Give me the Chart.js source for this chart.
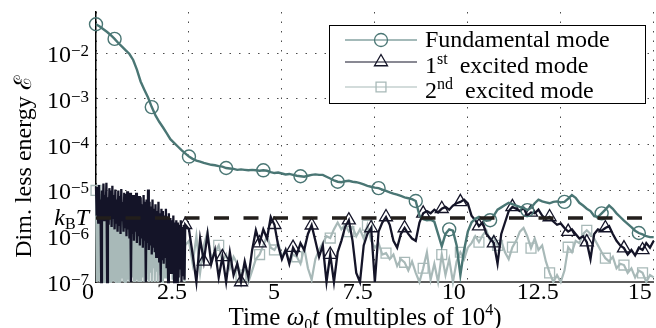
<!DOCTYPE html>
<html>
<head>
<meta charset="utf-8">
<script src="https://cdn.jsdelivr.net/npm/chart.js@4/dist/chart.umd.min.js"></script>
<style>
  html, body { margin: 0; padding: 0; background: #fff; overflow: hidden; }
  canvas { display: block; }
</style>
</head>
<body>
<canvas id="grafico" width="662" height="328"></canvas>
<script>
// valores en log10 (se pasan a 10^v al construir los datos)
// modo fundamental, t = 0 .. 15 cada 0.1
const fundLog = [
  -1.37,-1.42,-1.48,-1.54,-1.61,-1.69,-1.78,-1.86,-1.94,-2.02,
  -2.15,-2.36,-2.62,-2.80,-2.97,-3.18,-3.36,-3.50,-3.62,-3.75,
  -3.88,-3.96,-4.04,-4.12,-4.19,-4.26,-4.31,-4.35,-4.37,-4.40,
  -4.42,-4.44,-4.45,-4.47,-4.48,-4.51,-4.52,-4.53,-4.55,-4.54,
  -4.55,-4.56,-4.55,-4.56,-4.57,-4.56,-4.57,-4.60,-4.62,-4.61,
  -4.63,-4.65,-4.64,-4.66,-4.68,-4.69,-4.70,-4.68,-4.66,-4.65,
  -4.66,-4.66,-4.70,-4.74,-4.78,-4.81,-4.82,-4.80,-4.79,-4.81,
  -4.82,-4.84,-4.87,-4.90,-4.92,-4.94,-4.95,-4.98,-5.01,-5.04,
  -5.07,-5.09,-5.12,-5.15,-5.17,-5.19,-5.23,-5.55,-5.63,-5.65,
  -5.64,-5.68,-5.95,-6.22,-5.95,-5.85,-5.88,-6.20,-6.85,-6.30,
  -5.90,-5.70,-5.62,-5.58,-5.63,-5.66,-5.65,-5.55,-5.42,-5.37,
  -5.32,-5.27,-5.30,-5.33,-5.36,-5.38,-5.43,-5.38,-5.28,-5.20,
  -5.24,-5.26,-5.28,-5.25,-5.24,-5.26,-5.25,-5.18,-5.10,-5.16,
  -5.27,-5.33,-5.40,-5.45,-5.56,-5.58,-5.50,-5.42,-5.33,-5.40,
  -5.50,-5.58,-5.66,-5.73,-5.80,-5.88,-5.93,-5.96,-6.00,-6.02,
  -6.02
];

// 1er modo excitado: tramo denso t = 0 .. 2.4 cada 0.02
const exc1DenseLog = [
  -4.92,-5.55,-5.05,-5.70,-4.88,-5.45,-5.20,-7.00,-5.00,-5.60,
  -4.85,-5.65,-5.10,-5.50,-4.83,-7.00,-5.15,-5.75,-4.95,-5.55,
  -5.00,-5.80,-4.90,-5.60,-5.10,-5.85,-4.98,-5.70,-5.20,-5.90,
  -5.00,-5.75,-5.12,-5.95,-4.97,-5.65,-5.25,-5.90,-5.05,-5.80,
  -5.08,-6.00,-5.02,-5.85,-5.20,-6.05,-5.05,-7.00,-5.15,-5.95,
  -5.10,-6.10,-5.25,-5.90,-5.05,-6.15,-5.20,-6.00,-5.12,-6.20,
  -5.15,-6.05,-5.30,-6.25,-5.10,-6.10,-5.25,-7.00,-5.20,-6.15,
  -4.98,-6.30,-5.25,-6.20,-5.35,-6.40,-5.20,-6.25,-5.40,-6.35,
  -5.30,-6.45,-5.45,-6.30,-5.25,-6.55,-5.50,-7.00,-5.40,-6.50,
  -5.45,-6.60,-5.55,-6.45,-5.40,-6.70,-5.60,-7.00,-5.50,-6.65,
  -5.60,-6.80,-5.65,-6.60,-5.55,-7.00,-5.70,-6.75,-5.65,-7.00,
  -5.70,-6.90,-5.75,-6.70,-5.65,-7.00,-5.80,-6.85,-5.75,-6.95,
  -5.75
];
// 1er modo excitado: t = 2.5 .. 15 cada 0.1
const exc1TailLog = [
  -5.85,-6.40,-7.00,-6.05,-6.55,-5.95,-6.60,-6.30,-6.90,-6.45,
  -7.00,-6.35,-6.85,-6.60,-7.00,-6.55,-6.90,-6.30,-5.87,-6.15,
  -5.85,-6.05,-5.58,-5.75,-6.20,-6.50,-6.30,-6.60,-6.25,-6.40,
  -6.15,-6.30,-5.95,-5.76,-6.10,-6.45,-6.20,-7.00,-6.40,-7.00,
  -6.35,-6.10,-5.80,-5.65,-6.10,-6.80,-7.00,-6.20,-5.95,-5.82,
  -7.00,-5.90,-5.70,-5.58,-5.75,-6.10,-6.25,-5.95,-5.82,-5.95,
  -6.05,-6.10,-5.70,-5.50,-5.45,-5.50,-5.42,-5.48,-5.40,-5.36,
  -5.42,-5.33,-5.28,-5.25,-5.20,-5.28,-5.55,-5.65,-5.78,-5.70,
  -5.95,-6.05,-6.15,-6.60,-5.95,-5.70,-5.45,-5.36,-5.40,-5.45,
  -5.38,-5.55,-5.48,-5.50,-5.42,-5.55,-5.62,-5.58,-5.68,-5.75,
  -5.72,-5.82,-5.90,-5.85,-5.95,-6.05,-6.00,-6.13,-6.50,-5.95,
  -5.85,-5.88,-5.82,-5.78,-5.95,-6.10,-6.20,-6.26,-6.40,-6.30,
  -6.42,-6.25,-6.30,-6.15,-6.25,-6.10
];

// 2do modo excitado: tramo denso t = 0 .. 2.4 cada 0.02
const exc2DenseLog = [
  -5.00,-7.00,-5.05,-6.95,-5.10,-7.00,-5.08,-7.00,-5.15,-6.90,
  -5.12,-7.00,-5.20,-7.00,-5.18,-6.95,-5.25,-7.00,-5.22,-7.00,
  -5.30,-7.00,-5.28,-6.95,-5.35,-7.00,-5.33,-7.00,-5.40,-6.95,
  -5.38,-7.00,-5.45,-7.00,-5.42,-6.90,-5.50,-7.00,-5.48,-7.00,
  -5.55,-7.00,-5.52,-6.95,-5.60,-7.00,-5.58,-7.00,-5.65,-6.90,
  -5.62,-7.00,-5.70,-7.00,-5.68,-6.95,-5.75,-7.00,-5.72,-7.00,
  -5.78,-7.00,-5.75,-6.90,-5.82,-7.00,-5.80,-7.00,-5.86,-6.95,
  -6.05,-7.00,-5.90,-6.80,-5.88,-7.00,-5.92,-6.70,-5.90,-7.00,
  -5.95,-6.75,-5.92,-7.00,-5.98,-6.60,-5.95,-6.85,-6.02,-7.00,
  -6.00,-6.65,-6.05,-6.90,-6.02,-6.55,-6.08,-7.00,-6.05,-6.70,
  -6.10,-6.60,-6.05,-6.95,-6.12,-6.50,-6.08,-6.80,-6.15,-6.60,
  -6.10,-7.00,-6.15,-6.55,-6.12,-6.85,-6.18,-6.60,-6.15,-7.00,
  -6.20
];
// 2do modo excitado: t = 2.5 .. 15 cada 0.1
const exc2TailLog = [
  -6.10,-6.60,-6.00,-6.80,-6.20,-5.90,-6.50,-6.35,-6.20,-6.55,
  -6.40,-6.70,-6.45,-6.60,-6.85,-6.70,-7.00,-6.75,-6.50,-6.40,
  -6.20,-6.00,-6.25,-6.30,-6.15,-6.45,-6.30,-6.55,-6.40,-6.45,
  -6.60,-6.25,-6.70,-6.95,-6.50,-6.30,-6.15,-6.00,-6.04,-5.85,
  -5.70,-5.85,-5.75,-5.90,-5.80,-6.00,-5.85,-6.05,-5.76,-6.10,
  -6.25,-6.15,-6.40,-6.37,-6.50,-6.40,-6.65,-6.50,-6.57,-6.75,
  -6.55,-6.80,-7.00,-6.70,-6.35,-6.95,-6.60,-7.00,-6.40,-6.85,
  -6.50,-7.00,-6.55,-6.35,-6.50,-6.25,-6.15,-6.00,-6.13,-5.98,
  -5.87,-6.10,-6.00,-6.20,-6.10,-6.35,-6.50,-6.24,-6.10,-5.90,
  -5.82,-6.00,-6.26,-6.05,-6.30,-6.20,-6.55,-6.80,-7.00,-6.85,
  -7.00,-6.75,-6.24,-6.35,-6.10,-6.15,-5.95,-5.87,-5.95,-6.05,
  -6.20,-6.35,-6.48,-6.55,-6.45,-6.70,-6.60,-6.63,-6.80,-6.70,
  -6.90,-6.75,-6.80,-7.00,-6.85,-6.90
];

// posiciones (t) de los marcadores
const fundMarks = [0, 0.5, 1.5, 2.5, 3.5, 4.5, 5.5, 6.5, 7.6, 8.6, 9.5, 10.6, 11.6, 12.6, 13.6, 14.6];
const exc1Marks = [2.4, 2.9, 3.4, 3.9, 4.4, 4.8, 5.3, 5.8, 6.3, 6.8, 7.4, 7.8, 8.3, 8.8, 9.3, 9.8,
                   10.3, 10.7, 11.2, 11.7, 12.2, 12.7, 13.2, 13.7, 14.2, 14.7];
const exc2Marks = [0, 1.4, 3.3, 3.9, 4.4, 4.8, 5.4, 6.3, 6.8, 7.3, 7.8, 8.3, 8.8, 9.3, 9.8,
                   10.3, 10.8, 11.2, 11.7, 12.2, 12.7, 13.2, 13.7, 14.2, 14.7];

const kBT = 2.5e-6;
const xTicks = [0, 2.5, 5, 7.5, 10, 12.5, 15];
const yDecades = [-7, -6, -5, -4, -3, -2];
const nombresSeries = ["Fundamental mode", "1st excited mode", "2nd excited mode"];

const colorFund = "#4a7674";
const colorExc1 = "#141428";
const colorExc2 = "#a8b9b8";
const serif = "'Liberation Serif', 'DejaVu Serif', serif";

function aPuntos(denso, cola) {
  const puntos = [];
  denso.forEach(function (v, i) { puntos.push({ x: i * 0.02, y: Math.pow(10, v) }); });
  cola.forEach(function (v, i) { puntos.push({ x: 2.5 + i * 0.1, y: Math.pow(10, v) }); });
  return puntos;
}

const datosFund = fundLog.map(function (v, i) { return { x: i * 0.1, y: Math.pow(10, v) }; });
const datosExc1 = aPuntos(exc1DenseLog, exc1TailLog);
const datosExc2 = aPuntos(exc2DenseLog, exc2TailLog);

function radioMarcador(marcas, r) {
  return function (c) {
    const x = c.raw ? c.raw.x : -1;
    return marcas.some(function (m) { return Math.abs(m - x) < 0.001; }) ? r : 0;
  };
}

function fuente(size, italic) {
  return (italic ? "italic " : "") + size + "px " + serif;
}

function textoCompuesto(ctx, x, y, partes, align) {
  let ancho = 0;
  partes.forEach(function (p) {
    ctx.font = fuente(p.s || 24, p.i);
    ancho += ctx.measureText(p.t).width;
  });
  let cx = align === "right" ? x - ancho : (align === "center" ? x - ancho / 2 : x);
  partes.forEach(function (p) {
    ctx.font = fuente(p.s || 24, p.i);
    ctx.fillText(p.t, cx, y + (p.dy || 0));
    cx += ctx.measureText(p.t).width;
  });
}

const etiquetas = {
  id: "etiquetas",
  afterDraw: function (chart) {
    const ctx = chart.ctx;
    const sx = chart.scales.x;
    const sy = chart.scales.y;
    ctx.save();
    ctx.fillStyle = "#000";
    ctx.textBaseline = "alphabetic";
    ctx.textAlign = "left";

    // etiquetas del eje y
    yDecades.forEach(function (e) {
      const y = sy.getPixelForValue(Math.pow(10, e));
      textoCompuesto(ctx, 89, y + 9, [
        { t: "10" },
        { t: "\u2212" + Math.abs(e), s: 17, dy: -6 }
      ], "right");
    });
    // kBT
    const yk = sy.getPixelForValue(kBT);
    textoCompuesto(ctx, 89, yk + 7, [
      { t: "k", i: true }, { t: "B", s: 16, dy: 4 }, { t: "T", i: true }
    ], "right");

    // etiquetas del eje x
    xTicks.forEach(function (v) {
      const x = sx.getPixelForValue(v);
      textoCompuesto(ctx, x - 2, 299, [{ t: String(v) }], "right");
    });

    // titulo x
    textoCompuesto(ctx, 365, 325, [
      { t: "Time ", s: 25 }, { t: "\u03c9", i: true, s: 25 }, { t: "0", s: 16, dy: 5 }, { t: "t", i: true, s: 25 },
      { t: " (multiples of 10", s: 25 }, { t: "4", s: 16, dy: -10 }, { t: ")", s: 25 }
    ], "center");

    // titulo y
    ctx.save();
    ctx.translate(31, 167);
    ctx.rotate(-Math.PI / 2);
    textoCompuesto(ctx, 0, 0, [{ t: "Dim. less energy " }, { t: "\u2130" }], "center");
    ctx.restore();

    // leyenda
    ctx.fillStyle = "#fff";
    ctx.fillRect(329.5, 25.5, 316, 78);
    ctx.strokeStyle = "#000";
    ctx.lineWidth = 1;
    ctx.strokeRect(329.5, 25.5, 316, 78);
    const filas = [
      { color: colorFund, estilo: "circle", r: 6.5, ly: 40, ty: 47,
        partes: [{ t: nombresSeries[0] }] },
      { color: colorExc1, estilo: "triangle", r: 7.5, ly: 62, ty: 73,
        partes: [{ t: "1" }, { t: "st", s: 16, dy: -9 }, { t: "  excited mode" }] },
      { color: colorExc2, estilo: "rect", r: 7, ly: 87, ty: 98,
        partes: [{ t: "2" }, { t: "nd", s: 16, dy: -9 }, { t: "  excited mode" }] }
    ];
    filas.forEach(function (f) {
      ctx.strokeStyle = f.color;
      ctx.lineWidth = 1.2;
      ctx.beginPath();
      ctx.moveTo(345, f.ly);
      ctx.lineTo(417, f.ly);
      ctx.stroke();
      ctx.fillStyle = "rgba(0,0,0,0)";
      ctx.lineWidth = 1.3;
      Chart.helpers.drawPoint(ctx, { pointStyle: f.estilo, radius: f.r, rotation: 0, borderWidth: 1.3 }, 381, f.ly);
      ctx.fillStyle = "#000";
      textoCompuesto(ctx, 425, f.ty, f.partes, "left");
    });
    ctx.restore();
  }
};

const ctx = document.getElementById("grafico").getContext("2d");
new Chart(ctx, {
  type: "line",
  data: {
    datasets: [
      {
        label: "kBT",
        data: [{ x: 0, y: kBT }, { x: 15, y: kBT }],
        borderColor: "#221e1b",
        borderWidth: 3.5,
        borderDash: [15, 14.5],
        pointRadius: 0,
        clip: false
      },
      {
        label: nombresSeries[0],
        data: datosFund,
        borderColor: colorFund,
        borderWidth: 2.4,
        pointStyle: "circle",
        pointRadius: radioMarcador(fundMarks, 6.5),
        pointBorderColor: colorFund,
        pointBackgroundColor: "rgba(0,0,0,0)",
        pointBorderWidth: 1.4,
        clip: false
      },
      {
        label: nombresSeries[1],
        data: datosExc1,
        borderColor: colorExc1,
        borderWidth: 2.3,
        pointStyle: "triangle",
        pointRadius: radioMarcador(exc1Marks, 7.5),
        pointBorderColor: colorExc1,
        pointBackgroundColor: "rgba(0,0,0,0)",
        pointBorderWidth: 1.3,
        clip: false
      },
      {
        label: nombresSeries[2],
        data: datosExc2,
        borderColor: colorExc2,
        borderWidth: 2.2,
        pointStyle: "rect",
        pointRadius: radioMarcador(exc2Marks, 7),
        pointBorderColor: colorExc2,
        pointBackgroundColor: "rgba(0,0,0,0)",
        pointBorderWidth: 1.3,
        clip: false
      }
    ]
  },
  options: {
    responsive: false,
    animation: false,
    layout: { padding: { left: 96, right: 3, top: 12, bottom: 46 } },
    elements: { line: { tension: 0 } },
    plugins: { legend: { display: false }, tooltip: { enabled: false } },
    scales: {
      x: {
        type: "linear",
        min: 0,
        max: 15,
        afterFit: function (s) { s.height = 0; },
        afterBuildTicks: function (s) { s.ticks = xTicks.map(function (v) { return { value: v }; }); },
        ticks: { display: false },
        grid: { color: "#4a4a4a", lineWidth: 1, drawTicks: false },
        border: { display: true, color: "#5c5c5c", width: 2, dash: [1.5, 8] }
      },
      y: {
        type: "logarithmic",
        min: 1e-7,
        max: 0.079,
        afterFit: function (s) { s.width = 0; },
        afterBuildTicks: function (s) { s.ticks = yDecades.map(function (e) { return { value: Math.pow(10, e) }; }); },
        ticks: { display: false },
        grid: { color: "#4a4a4a", lineWidth: 1, drawTicks: false },
        border: { display: true, color: "#000", width: 1.5, dash: [1.5, 8] }
      }
    }
  },
  plugins: [etiquetas]
});
</script>
</body>
</html>
